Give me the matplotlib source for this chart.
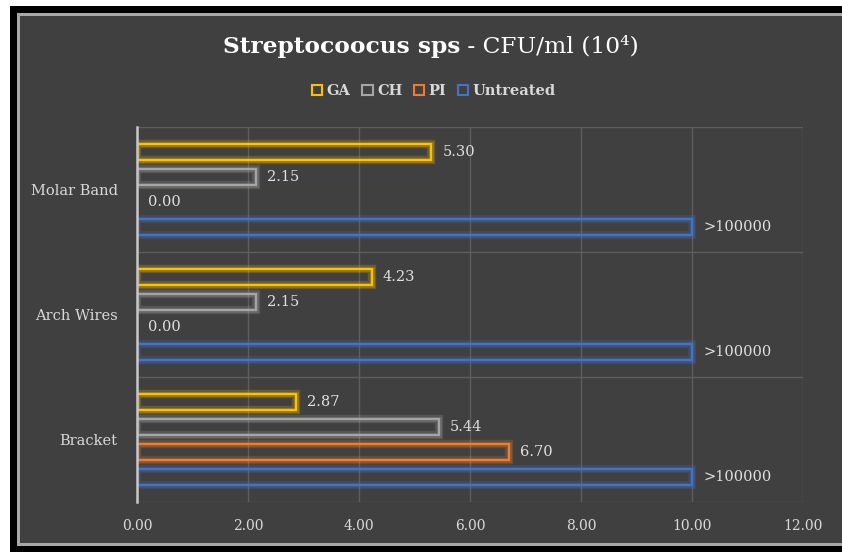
import matplotlib
matplotlib.use("Agg")
import matplotlib.pyplot as plt
import matplotlib.patheffects as pe
from matplotlib.patches import Rectangle
import numpy as np

categories = ["Bracket", "Arch Wires", "Molar Band"]
series = ["GA", "CH", "PI", "Untreated"]
ga = [2.87, 4.23, 5.30]
ch = [5.44, 2.15, 2.15]
pi = [6.70, 0.00, 0.00]
untreated = [10.00, 10.00, 10.00]
untreated_labels = [">100000", ">100000", ">100000"]
xticks = [0, 2, 4, 6, 8, 10, 12]
colors = ["#FFC000", "#A5A5A5", "#ED7D31", "#4472C4"]

W, H = 842, 552
fig = plt.figure(figsize=(W / 100, H / 100), dpi=100, facecolor="white")
SERIF = ["DejaVu Serif"]


def fx(x):
    return x / W


def fy(y):
    return 1 - y / H


# frame
fig.patches.append(Rectangle((fx(10), 0), 1, fy(6), transform=fig.transFigure,
                             facecolor="black", edgecolor="none", zorder=-10))
fig.patches.append(Rectangle((fx(17), fy(546)), 1, fy(13) - fy(546), transform=fig.transFigure,
                             facecolor="#A8A8A8", edgecolor="none", zorder=-9))
fig.patches.append(Rectangle((fx(20), fy(543)), 1, fy(16) - fy(543), transform=fig.transFigure,
                             facecolor="#404040", edgecolor="none", zorder=-8))

ax = fig.add_axes([fx(137), fy(502), fx(803) - fx(137), fy(127) - fy(502)])
ax.set_facecolor("none")
ax.set_zorder(5)

y = np.arange(len(categories))
offsets = [0.3, 0.1, -0.1, -0.3]
bh = 0.13
data = [ga, ch, pi, untreated]
for vals, off, col, name in zip(data, offsets, colors, series):
    bars = ax.barh(y + off, vals, height=bh, facecolor="none", edgecolor=col,
                   linewidth=1.6, label=name, zorder=3)
    for b, v in zip(bars, vals):
        b.set_path_effects([pe.Stroke(linewidth=6, foreground=col, alpha=0.22),
                            pe.Stroke(linewidth=3.5, foreground=col, alpha=0.25),
                            pe.Normal()])
        if v == 0:
            b.set_visible(False)
    for i, v in enumerate(vals):
        lab = untreated_labels[i] if name == "Untreated" else f"{v:.2f}"
        ax.annotate(lab, (v, y[i] + off), xytext=(8, 0), textcoords="offset points",
                    va="center", ha="left", color="#E0E0E0", fontsize=10.5,
                    family=SERIF, zorder=4)

ax.set_xlim(0, 12)
ax.set_ylim(-0.5, 2.5)
ax.set_xticks(xticks)
ax.set_xticklabels([f"{t:.2f}" for t in xticks], color="#D9D9D9", fontsize=10, family=SERIF)
ax.set_yticks(y)
ax.set_yticklabels(categories, color="#D9D9D9", fontsize=10.5, family=SERIF)
ax.tick_params(axis="both", length=0)
ax.tick_params(axis="x", pad=12)
ax.tick_params(axis="y", pad=14)
for t in xticks[1:]:
    ax.axvline(t, color="#5E5E5E", lw=1, zorder=1)
for b in [-0.5, 0.5, 1.5, 2.5]:
    ax.axhline(b, color="#5E5E5E", lw=1, zorder=1)
for s in ["top", "right", "bottom"]:
    ax.spines[s].set_visible(False)
ax.spines["left"].set_color("#C8C8C8")
ax.spines["left"].set_linewidth(1.8)
ax.spines["left"].set_zorder(5)

# title
t1 = fig.text(fx(223), fy(47), "Streptocoocus sps", fontsize=16.8, fontweight="bold",
              color="white", family=SERIF, ha="left", va="center")
fig.canvas.draw()
bb = t1.get_window_extent()
fig.text(bb.x1 / W, fy(47), " - CFU/ml (10\u2074)", fontsize=16.8,
         color="white", family=SERIF, ha="left", va="center")

# legend
handles = [Rectangle((0, 0), 1, 1, facecolor="none", edgecolor=c, lw=1.5) for c in colors]
fig.legend(handles, series, loc="center", bbox_to_anchor=(fx(434), fy(91)), ncol=4,
           frameon=False, handlelength=0.7, handleheight=0.7, handletextpad=0.3,
           columnspacing=0.8, prop={"family": SERIF, "size": 10.5, "weight": "bold"},
           labelcolor="#D9D9D9")

fig.savefig("out.png", dpi=100, facecolor="white")
